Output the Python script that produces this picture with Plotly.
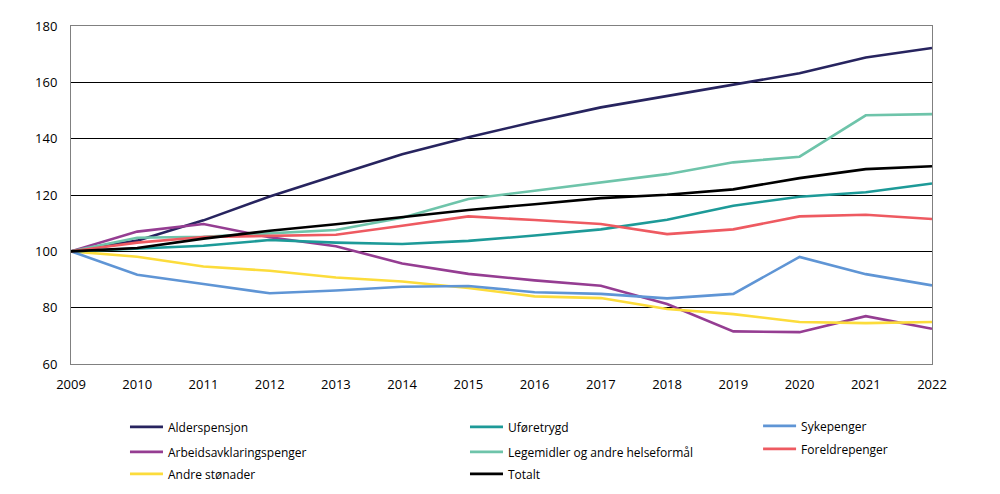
import plotly.graph_objects as go

years = list(range(2009, 2023))

alderspensjon = [100, 103.8, 111, 119.5, 127, 134.5, 140.5, 146, 151.1, 155.1, 159, 163.2, 168.8, 172.2]
arbeidsavklaring = [100, 107, 109.7, 105, 101.8, 95.7, 92, 89.7, 87.8, 81.3, 71.6, 71.3, 77, 72.5]
andre_stonader = [100, 98.1, 94.6, 93.1, 90.7, 89.3, 87, 84, 83.4, 79.5, 77.7, 74.9, 74.5, 74.9]
uforetrygd = [100, 101.1, 102, 104, 103.1, 102.6, 103.7, 105.6, 107.8, 111.2, 116.2, 119.4, 121, 124.1]
legemidler = [100, 104.8, 105.2, 106.5, 107.6, 111.9, 118.6, 121.5, 124.5, 127.4, 131.6, 133.6, 148.3, 148.7]
totalt = [100, 101.2, 104.5, 107.3, 109.6, 112.1, 114.7, 116.7, 118.9, 120.1, 122, 126, 129.2, 130.2]
sykepenger = [100, 91.7, 88.4, 85.1, 86.1, 87.4, 87.7, 85.5, 84.9, 83.3, 84.9, 98, 91.9, 87.9]
foreldrepenger = [100, 103.1, 105.1, 105.6, 105.9, 109.1, 112.4, 111.1, 109.7, 106.1, 107.8, 112.4, 113, 111.5]

names = ["Alderspensjon", "Arbeidsavklaringspenger", "Andre stønader",
         "Uføretrygd", "Legemidler og andre helseformål", "Totalt",
         "Sykepenger", "Foreldrepenger"]
values = [alderspensjon, arbeidsavklaring, andre_stonader, uforetrygd,
          legemidler, totalt, sykepenger, foreldrepenger]
colors = ["#27245f", "#953d92", "#fcdc3b", "#1d9a98", "#6ec4aa", "#000000",
          "#5f95d5", "#ee5a61"]

# legend slot for each series (paper coords): three columns, like the original
leg_x = [0.0627, 0.0627, 0.0627, 0.4576, 0.4576, 0.4576, 0.798, 0.798]
leg_y = [-0.186, -0.260, -0.325, -0.186, -0.260, -0.325, -0.183, -0.251]

font = dict(family="Open Sans", size=12, color="#000000")

fig = go.Figure()
# total drawn last so it sits on top
for i in [0, 1, 2, 3, 4, 6, 7, 5]:
    leg = "legend" if i == 0 else "legend%d" % (i + 1)
    fig.add_trace(go.Scatter(x=years, y=values[i], name=names[i], mode="lines",
                             line=dict(color=colors[i], width=2.6), legend=leg))

layout_legends = {}
for i in range(8):
    key = "legend" if i == 0 else "legend%d" % (i + 1)
    layout_legends[key] = dict(x=leg_x[i], y=leg_y[i], xanchor="left", yanchor="middle",
                               bgcolor="rgba(0,0,0,0)", font=font, itemwidth=33)

# page body has an 8px margin, so the figure is a bit smaller than the window
fig.update_layout(
    width=984, height=478,
    margin=dict(l=63, r=60, t=18, b=122, autoexpand=False),
    paper_bgcolor="white", plot_bgcolor="white",
    font=font,
    showlegend=True,
    xaxis=dict(range=[2009, 2022], tickmode="array", tickvals=years,
               ticktext=[str(y) for y in years], showgrid=False,
               showline=True, linecolor="#808080", linewidth=1, mirror=True,
               ticks="", tickfont=dict(size=13), zeroline=False,
               automargin=False, ticklabelstandoff=8),
    yaxis=dict(range=[60, 180], dtick=20, showgrid=True, gridcolor="#000000",
               gridwidth=1, showline=True, linecolor="#808080", linewidth=1,
               mirror=True, ticks="", tickfont=dict(size=13), zeroline=False,
               automargin=False, ticklabelstandoff=10),
    **layout_legends,
)

fig.write_html("out.html")
